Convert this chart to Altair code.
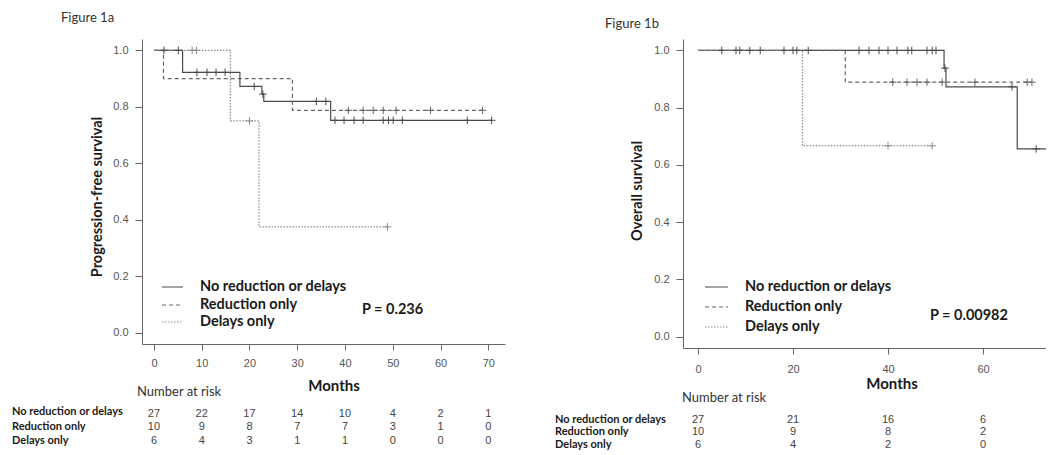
import altair as alt
import pandas as pd

GROUPS = ["No reduction or delays", "Reduction only", "Delays only"]
COLORS = ["#4a4a4a", "#666666", "#8c8c8c"]
DASHES = [[1, 0], [4, 3], [1.5, 1.5]]

# ---------------- Figure 1a (progression-free survival) ----------------
A_SOLID_T = [0, 6, 18, 22.6, 23, 37, 70.7]
A_SOLID_S = [1.0, 0.922, 0.872, 0.845, 0.819, 0.752, 0.752]
A_DASH_T = [0, 2, 29, 68.8]
A_DASH_S = [1.0, 0.9, 0.7875, 0.7875]
A_DOT_T = [0, 16, 22, 48.9]
A_DOT_S = [1.0, 0.75, 0.375, 0.375]

A_SOLID_CT = [2.1, 5.1, 9.0, 11.1, 13.0, 14.9, 21.0, 22.8, 34.0, 36.0,
              37.9, 39.8, 41.9, 43.8, 48.0, 49.1, 50.1, 52.0, 65.6, 70.7]
A_SOLID_CS = [1.0, 1.0, 0.922, 0.922, 0.922, 0.922, 0.872, 0.845, 0.819, 0.819,
              0.752, 0.752, 0.752, 0.752, 0.752, 0.752, 0.752, 0.752, 0.752, 0.752]
A_DASH_CT = [40.7, 43.8, 45.9, 48.0, 50.7, 57.9, 68.8]
A_DASH_CS = [0.7875, 0.7875, 0.7875, 0.7875, 0.7875, 0.7875, 0.7875]
A_DOT_CT = [8.0, 8.9, 20.0, 48.9]
A_DOT_CS = [1.0, 1.0, 0.75, 0.375]

A_RISK_T = [0, 10, 20, 30, 40, 50, 60, 70]
A_RISK_SOLID = [27, 22, 17, 14, 10, 4, 2, 1]
A_RISK_DASH = [10, 9, 8, 7, 7, 3, 1, 0]
A_RISK_DOT = [6, 4, 3, 1, 1, 0, 0, 0]

# ---------------- Figure 1b (overall survival) ----------------
B_SOLID_T = [0, 51.8, 52.2, 67.2, 74.1]
B_SOLID_S = [1.0, 0.938, 0.873, 0.656, 0.656]
B_DASH_T = [0, 31, 70.3]
B_DASH_S = [1.0, 0.889, 0.889]
B_DOT_T = [0, 22, 49.3]
B_DOT_S = [1.0, 0.667, 0.667]

B_SOLID_CT = [5.0, 8.0, 8.8, 10.9, 13.1, 18.1, 20.0, 20.8, 23.2, 33.9, 36.0, 38.1,
              40.0, 41.9, 44.2, 45.0, 48.2, 49.3, 50.1, 52.0, 66.1, 71.2, 74.1]
B_SOLID_CS = [1.0, 1.0, 1.0, 1.0, 1.0, 1.0, 1.0, 1.0, 1.0, 1.0, 1.0, 1.0,
              1.0, 1.0, 1.0, 1.0, 1.0, 1.0, 1.0, 0.938, 0.873, 0.656, 0.656]
B_DASH_CT = [41.0, 44.0, 46.1, 48.2, 51.4, 58.3, 69.3, 70.3]
B_DASH_CS = [0.889, 0.889, 0.889, 0.889, 0.889, 0.889, 0.889, 0.889]
B_DOT_CT = [40.0, 49.3]
B_DOT_CS = [0.667, 0.667]

B_RISK_T = [0, 20, 40, 60]
B_RISK_SOLID = [27, 21, 16, 6]
B_RISK_DASH = [10, 9, 8, 2]
B_RISK_DOT = [6, 4, 2, 0]

A_TITLE = "Figure 1a"
B_TITLE = "Figure 1b"
A_YTITLE = "Progression-free survival"
B_YTITLE = "Overall survival"
A_PTEXT = "P = 0.236"
B_PTEXT = "P = 0.00982"
X_TITLE = "Months"
RISK_TITLE = "Number at risk"
Y_TICKS = [0.0, 0.2, 0.4, 0.6, 0.8, 1.0]

CAL = "Lato"
ARIAL = "Liberation Sans"


def curve_df(ts, ss):
    rows = []
    for g, t, s in zip(GROUPS, ts, ss):
        for a, b in zip(t, s):
            rows.append({"group": g, "t": a, "s": b})
    return pd.DataFrame(rows)


def risk_df(times, n):
    return pd.DataFrame({"t": times, "n": n})


def text_layer(label, x, y, font=CAL, size=14.5, weight="bold", align="left",
               color="#1a1a1a", angle=0):
    kw = dict(font=font, fontSize=size, fontWeight=weight, align=align,
              baseline="middle", color=color)
    if angle:
        kw["angle"] = angle
    return alt.Chart(pd.DataFrame({"label": [label]})).mark_text(**kw).encode(
        text="label:N", x=alt.value(x), y=alt.value(y))


def panel(curve_t, curve_s, cens_t, cens_s, risk_t, risk_rows, xdom, xticks,
          w, h, geo, title, ytitle, ptext):
    xs = alt.Scale(domain=xdom, nice=False, zero=False)
    ys = alt.Scale(domain=[-0.04, 1.04], nice=False, zero=False)
    cs = alt.Scale(domain=GROUPS, range=COLORS)
    ds = alt.Scale(domain=GROUPS, range=DASHES)
    xaxis = alt.Axis(values=xticks, format="d", grid=False, tickSize=6,
                     labelPadding=geo["xlabpad"], labelFont=ARIAL, labelFontSize=11,
                     labelColor="#555555", domainColor="#666666", tickColor="#666666")
    yaxis = alt.Axis(values=Y_TICKS, format=".1f", grid=False, tickSize=7,
                     labelPadding=7, labelFont=ARIAL, labelFontSize=11,
                     labelColor="#555555", domainColor="#666666", tickColor="#666666")

    lines = alt.Chart(curve_df(curve_t, curve_s)).mark_line(
        interpolate="step-after", strokeWidth=1.2, clip=True).encode(
        x=alt.X("t:Q", scale=xs, axis=xaxis, title=None),
        y=alt.Y("s:Q", scale=ys, axis=yaxis, title=None),
        color=alt.Color("group:N", scale=cs, legend=None),
        strokeDash=alt.StrokeDash("group:N", scale=ds, legend=None),
    )
    cens = alt.Chart(curve_df(cens_t, cens_s)).mark_point(
        shape="M-1,0L1,0M0,-1L0,1", filled=False, size=56, strokeWidth=1,
        opacity=1, clip=True).encode(
        x=alt.X("t:Q", scale=xs),
        y=alt.Y("s:Q", scale=ys),
        color=alt.Color("group:N", scale=cs, legend=None),
    )
    layers = [lines, cens]

    # invisible anchor keeping both panels' top edges aligned
    layers.append(alt.Chart(pd.DataFrame({"a": [0]})).mark_text(
        text=".", fontSize=2, opacity=0, baseline="top").encode(
        x=alt.value(0), y=alt.value(geo["anchor"])))

    layers.append(text_layer(title, geo["title"][0], geo["title"][1], size=13,
                             weight="normal", color="#333333"))
    layers.append(text_layer(ytitle, geo["ytitle"][0], geo["ytitle"][1],
                             align="center", angle=270))
    # legend
    for i, g in enumerate(GROUPS):
        yy = geo["leg_y"][i]
        layers.append(alt.Chart(pd.DataFrame({"group": [g]})).mark_rule(
            strokeWidth=1.2).encode(
            x=alt.value(geo["leg_x"][0]), x2=alt.value(geo["leg_x"][1]),
            y=alt.value(yy),
            color=alt.Color("group:N", scale=cs, legend=None),
            strokeDash=alt.StrokeDash("group:N", scale=ds, legend=None)))
        layers.append(text_layer(g, geo["leg_text"], yy))
    layers.append(text_layer(ptext, geo["p"][0], geo["p"][1]))
    layers.append(text_layer(X_TITLE, geo["months"][0], geo["months"][1],
                             size=15, align="center"))
    layers.append(text_layer(RISK_TITLE, geo["risk_title"][0], geo["risk_title"][1],
                             size=13, weight="normal", color="#333333"))
    for i, g in enumerate(GROUPS):
        layers.append(text_layer(g, geo["risk_lab_x"], geo["risk_lab_y"][i], size=11))
        layers.append(alt.Chart(risk_df(risk_t, risk_rows[i])).mark_text(
            font=ARIAL, fontSize=11, color="#444444", align="center",
            baseline="middle").encode(
            x=alt.X("t:Q", scale=xs), y=alt.value(geo["risk_num_y"][i]),
            text="n:Q"))
    return alt.layer(*layers).properties(width=w, height=h)


GEO_A = {
    "anchor": -31, "xlabpad": 7,
    "title": (-81, -21), "ytitle": (-44, 158),
    "leg_y": [248, 266, 283], "leg_x": (20, 41), "leg_text": 58,
    "p": (220, 271), "months": (192, 347), "risk_title": (-5, 353),
    "risk_lab_x": -130, "risk_lab_y": [373, 388, 402], "risk_num_y": [375, 388, 402],
}
GEO_B = {
    "anchor": -27, "xlabpad": 9,
    "title": (-78, -15), "ytitle": (-45, 152),
    "leg_y": [248, 268, 288], "leg_x": (22, 45), "leg_text": 62,
    "p": (247, 277), "months": (209, 345), "risk_title": (-1, 359),
    "risk_lab_x": -128, "risk_lab_y": [381, 393, 406], "risk_num_y": [381, 393, 406],
}

pa = panel([A_SOLID_T, A_DASH_T, A_DOT_T], [A_SOLID_S, A_DASH_S, A_DOT_S],
           [A_SOLID_CT, A_DASH_CT, A_DOT_CT], [A_SOLID_CS, A_DASH_CS, A_DOT_CS],
           A_RISK_T, [A_RISK_SOLID, A_RISK_DASH, A_RISK_DOT],
           [-2.5, 73.5], A_RISK_T, 363, 305, GEO_A, A_TITLE, A_YTITLE, A_PTEXT)
pb = panel([B_SOLID_T, B_DASH_T, B_DOT_T], [B_SOLID_S, B_DASH_S, B_DOT_S],
           [B_SOLID_CT, B_DASH_CT, B_DOT_CT], [B_SOLID_CS, B_DASH_CS, B_DOT_CS],
           B_RISK_T, [B_RISK_SOLID, B_RISK_DASH, B_RISK_DOT],
           [-3.16, 73.26], B_RISK_T, 363, 309, GEO_B, B_TITLE, B_YTITLE, B_PTEXT)

chart = alt.hconcat(pa, pb, spacing=50).properties(
    padding={"left": 4, "top": 0, "right": 0, "bottom": 0},
    background="white",
).configure_view(strokeWidth=0)

chart.save("out.html", embed_options={"renderer": "svg", "actions": False})
